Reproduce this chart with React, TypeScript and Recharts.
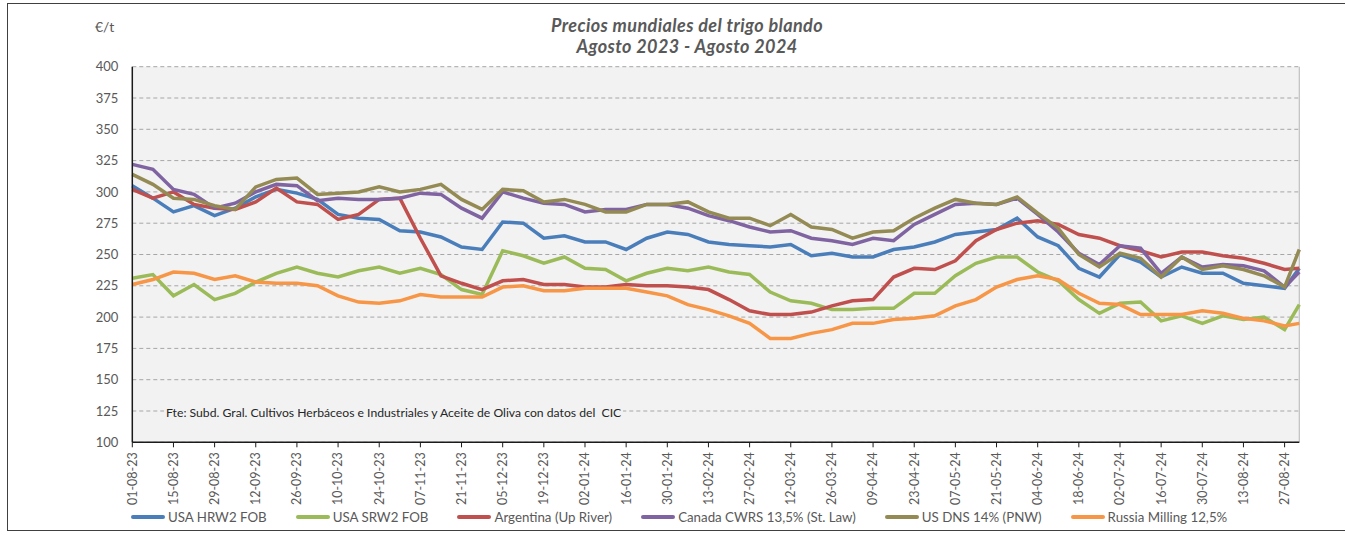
import React from 'react';
import {CartesianGrid, Line, LineChart, ReferenceLine, XAxis, YAxis} from 'recharts';

// weekly quotes, last entry is where the plot is cut at the right edge
const dates = [
  '01-08-23', '08-08-23', '15-08-23', '22-08-23', '29-08-23', '05-09-23', '12-09-23', '19-09-23',
  '26-09-23', '03-10-23', '10-10-23', '17-10-23', '24-10-23', '31-10-23', '07-11-23', '14-11-23',
  '21-11-23', '28-11-23', '05-12-23', '12-12-23', '19-12-23', '26-12-23', '02-01-24', '09-01-24',
  '16-01-24', '23-01-24', '30-01-24', '06-02-24', '13-02-24', '20-02-24', '27-02-24', '05-03-24',
  '12-03-24', '19-03-24', '26-03-24', '02-04-24', '09-04-24', '16-04-24', '23-04-24', '30-04-24',
  '07-05-24', '14-05-24', '21-05-24', '28-05-24', '04-06-24', '11-06-24', '18-06-24', '25-06-24',
  '02-07-24', '09-07-24', '16-07-24', '23-07-24', '30-07-24', '06-08-24', '13-08-24', '20-08-24',
  '27-08-24', '01-09-24',
];

const usaHrw2 = [
  305, 295, 284, 289, 281, 287, 296, 302, 299, 294, 282, 279, 278, 269, 268, 264,
  256, 254, 276, 275, 263, 265, 260, 260, 254, 263, 268, 266, 260, 258, 257, 256,
  258, 249, 251, 248, 248, 254, 256, 260, 266, 268, 270, 279, 264, 257, 239, 232,
  250, 244, 232, 240, 235, 235, 227, 225, 223, 239,
];
const usaSrw2 = [
  231, 234, 217, 226, 214, 219, 228, 235, 240, 235, 232, 237, 240, 235, 239, 234,
  222, 218, 253, 249, 243, 248, 239, 238, 229, 235, 239, 237, 240, 236, 234, 220,
  213, 211, 206, 206, 207, 207, 219, 219, 233, 243, 248, 248, 236, 229, 214, 203,
  211, 212, 197, 201, 195, 201, 198, 200, 190, 210,
];
const argentina = [
  302, 295, 300, 290, 287, 286, 292, 303, 292, 290, 278, 282, 294, 295, 263, 233,
  227, 222, 229, 230, 226, 226, 224, 224, 226, 225, 225, 224, 222, 214, 205, 202,
  202, 204, 209, 213, 214, 232, 239, 238, 245, 261, 270, 275, 277, 274, 266, 263,
  257, 253, 248, 252, 252, 249, 247, 243, 238, 239,
];
const canadaCwrs = [
  322, 318, 302, 298, 287, 291, 300, 306, 305, 293, 295, 294, 294, 295, 299, 298,
  287, 279, 300, 295, 291, 290, 284, 286, 286, 290, 290, 287, 281, 277, 272, 268,
  269, 263, 261, 258, 263, 261, 274, 282, 290, 291, 290, 295, 282, 268, 251, 242,
  257, 255, 235, 248, 240, 242, 241, 237, 224, 236,
];
const usDns = [
  314, 306, 295, 294, 289, 286, 304, 310, 311, 298, 299, 300, 304, 300, 302, 306,
  294, 286, 302, 301, 292, 294, 290, 284, 284, 290, 290, 292, 284, 279, 279, 273,
  282, 272, 270, 263, 268, 269, 279, 287, 294, 291, 290, 296, 283, 271, 250, 240,
  251, 247, 232, 248, 238, 241, 238, 233, 224, 254,
];
const russia = [
  226, 230, 236, 235, 230, 233, 228, 227, 227, 225, 217, 212, 211, 213, 218, 216,
  216, 216, 224, 225, 221, 221, 223, 223, 223, 220, 217, 210, 206, 201, 195, 183,
  183, 187, 190, 195, 195, 198, 199, 201, 209, 214, 224, 230, 233, 230, 219, 211,
  210, 202, 202, 202, 205, 203, 199, 197, 193, 195,
];

const series = [
  {key: 'hrw', name: 'USA HRW2 FOB', color: '#4a7ebb', values: usaHrw2},
  {key: 'srw', name: 'USA SRW2 FOB', color: '#9bbb59', values: usaSrw2},
  {key: 'arg', name: 'Argentina (Up River)', color: '#c0504d', values: argentina},
  {key: 'cwrs', name: 'Canada CWRS 13,5% (St. Law)', color: '#8064a2', values: canadaCwrs},
  {key: 'dns', name: 'US DNS 14% (PNW)', color: '#948a54', values: usDns},
  {key: 'rus', name: 'Russia Milling 12,5%', color: '#f79646', values: russia},
];

const yTicks = [100, 125, 150, 175, 200, 225, 250, 275, 300, 325, 350, 375, 400];

const toDay = (s: string) => {
  const [d, m, y] = s.split('-').map(Number);
  return Date.UTC(2000 + y, m - 1, d) / 86400000;
};
const day0 = toDay(dates[0]);
const days = dates.map((d) => toDay(d) - day0);
const axisEnd = days[days.length - 1];

// tick labels: every other week, up to 27-08-24
const tickDays = days.filter((_, i) => i % 2 === 0 && i < dates.length - 1);
const labelByDay: Record<number, string> = {};
dates.forEach((d, i) => (labelByDay[days[i]] = d));

const data = dates.map((d, i) => {
  const row: Record<string, number | string> = {date: d, day: days[i]};
  series.forEach((s) => (row[s.key] = s.values[i]));
  return row;
});

const FONT = 'Lato, "Open Sans", sans-serif';
const GREY = '#595959';

const XTick = ({x, y, payload}: any) => (
  <text
    x={x}
    y={y}
    transform={`rotate(-90 ${x} ${y})`}
    textAnchor='end'
    dy='0.35em'
    fill={GREY}
    fontSize={12.5}
    fontFamily={FONT}
  >
    {labelByDay[payload.value]}
  </text>
);

export default function App() {
  return (
    <div
      style={{
        position: 'fixed',
        left: 0,
        top: 0,
        width: 1345,
        height: 541,
        background: '#fff',
        fontFamily: FONT,
        overflow: 'hidden',
      }}
    >
      <div
        style={{
          position: 'absolute',
          left: 7,
          top: 3,
          width: 1345,
          height: 526,
          borderLeft: '1.5px solid #404040',
          borderTop: '1.5px solid #404040',
          borderBottom: '1.5px solid #404040',
        }}
      />
      <div
        style={{
          position: 'absolute',
          left: 437,
          top: 15,
          width: 500,
          textAlign: 'center',
          fontSize: 18,
          lineHeight: '21px',
          letterSpacing: 0.4,
          fontWeight: 700,
          fontStyle: 'italic',
          color: GREY,
        }}
      >
        Precios mundiales del trigo blando
        <br />
        Agosto 2023 - Agosto 2024
      </div>
      <div style={{position: 'absolute', left: 95, top: 18, fontSize: 14, color: GREY}}>€/t</div>

      <LineChart
        width={1345}
        height={541}
        data={data}
        margin={{top: 66.7, right: 45.7, bottom: 38.7, left: 92.3}}
        style={{position: 'absolute', left: 0, top: 0}}
      >
        <CartesianGrid
          vertical={false}
          stroke='#a6a6a6'
          strokeDasharray='4 3'
          fill='#f2f2f2'
          fillOpacity={1}
        />
        <XAxis
          dataKey='day'
          type='number'
          domain={[0, axisEnd]}
          ticks={tickDays}
          interval={0}
          height={60}
          tick={<XTick />}
          tickSize={5}
          tickMargin={5}
          axisLine={{stroke: '#1a1a1a', strokeWidth: 1.5}}
          tickLine={{stroke: '#1a1a1a'}}
        />
        <YAxis
          type='number'
          domain={[100, 400]}
          ticks={yTicks}
          interval={0}
          width={40}
          tickSize={0}
          tickMargin={14}
          tick={{fill: GREY, fontSize: 13, fontFamily: FONT}}
          axisLine={{stroke: '#1a1a1a', strokeWidth: 1.5}}
          tickLine={false}
        />
        <ReferenceLine x={axisEnd} stroke='#bfbfbf' strokeWidth={1.2} />
        {series.map((s) => (
          <Line
            key={s.key}
            type='linear'
            dataKey={s.key}
            name={s.name}
            stroke={s.color}
            strokeWidth={3.5}
            dot={false}
            isAnimationActive={false}
          />
        ))}
      </LineChart>

      <div
        style={{
          position: 'absolute',
          left: 164,
          top: 404,
          padding: '0 2px',
          background: '#f2f2f2',
          fontSize: 12.2,
          lineHeight: '17px',
          color: '#262626',
          whiteSpace: 'pre',
        }}
      >
        {'Fte: Subd. Gral. Cultivos Herbáceos e Industriales y Aceite de Oliva con datos del  CIC'}
      </div>

      <div
        style={{
          position: 'absolute',
          left: 131,
          top: 509,
          display: 'flex',
          alignItems: 'center',
          gap: 29,
          fontSize: 13.3,
          lineHeight: '16px',
          color: GREY,
          whiteSpace: 'nowrap',
        }}
      >
        {series.map((s) => (
          <div key={s.key} style={{display: 'flex', alignItems: 'center'}}>
            <span
              style={{
                display: 'inline-block',
                width: 34,
                height: 4,
                borderRadius: 2,
                background: s.color,
                marginRight: 3,
              }}
            />
            {s.name}
          </div>
        ))}
      </div>
    </div>
  );
}
